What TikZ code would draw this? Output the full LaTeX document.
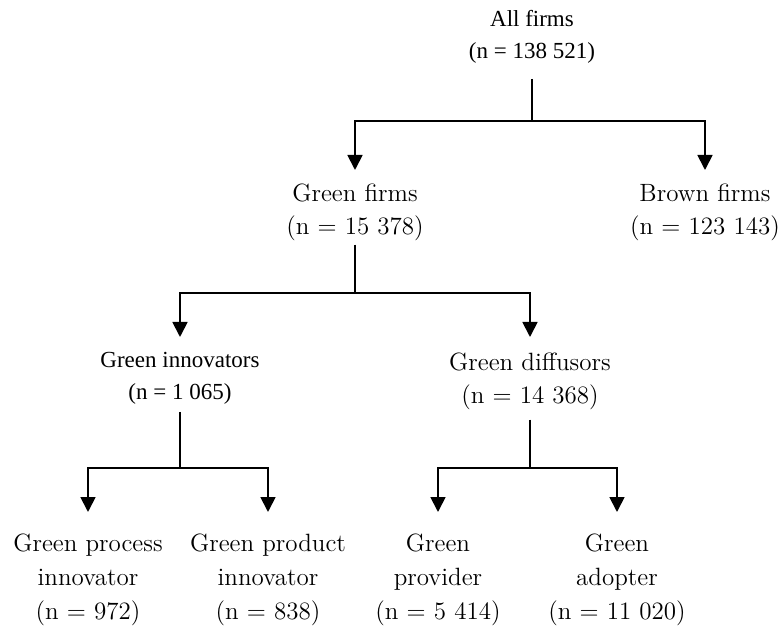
\documentclass[tikz,border=0pt]{standalone}
\usepackage{fontspec}
\newfontfamily\timesfont{Liberation Serif}
\usepackage{tikz}
\usetikzlibrary{arrows.meta}

\tikzset{
	firm/.style={align=center, inner sep=0pt, anchor=north, font=\fontsize{12.5}{17}\selectfont},
	firmtimes/.style={firm, font=\timesfont\fontsize{11.5}{16}\selectfont},
	stem/.style={line width=0.9pt, shorten <=#1},
	arr/.style={line width=0.9pt, -{Triangle[width=7.5pt,length=7.5pt]}, shorten >=#1}
}

\begin{document}
\begin{tikzpicture}[x=0.5pt,y=-0.5pt]
	\useasboundingbox (0,0) rectangle (778,626);

	\node[firmtimes] (all) at (532,10) {All firms\\(n = 138 521)};
	\node[firm] (green) at (355,183) {Green firms\\(n = 15 378)};
	\node[firm] (brown) at (705,183) {Brown firms\\(n = 123 143)};
	\node[firmtimes] (innov) at (180,352) {Green innovators\\(n = 1 065)};
	\node[firm] (diff) at (530,352) {Green diffusors\\(n = 14 368)};
	\node[firm] (process) at (88,533) {Green process\\innovator\\(n = 972)};
	\node[firm] (product) at (268,533) {Green product\\innovator\\(n = 838)};
	\node[firm] (provider) at (438,533) {Green\\provider\\(n = 5 414)};
	\node[firm] (adopter) at (617,533) {Green\\adopter\\(n = 11 020)};

	\coordinate (j1) at (532,121);
	\coordinate (j2) at (355,293);
	\coordinate (j3) at (180,468);
	\coordinate (j4) at (530,468);

	% all firms
	\draw[stem=7.5pt] (all) -- (j1);
	\draw[arr=6.5pt] (j1) -| (green);
	\draw[arr=6.5pt] (j1) -| (brown);

	% green firms
	\draw[stem=1.5pt] (green) -- (j2);
	\draw[arr=7.5pt] (j2) -| (innov);
	\draw[arr=7.5pt] (j2) -| (diff);

	% innovators and diffusors
	\draw[stem=3.5pt] (innov) -- (j3);
	\draw[arr=10.5pt] (j3) -| (process);
	\draw[arr=10.5pt] (j3) -| (product);
	\draw[stem=4.5pt] (diff) -- (j4);
	\draw[arr=10.5pt] (j4) -| (provider);
	\draw[arr=10.5pt] (j4) -| (adopter);
\end{tikzpicture}
\end{document}
